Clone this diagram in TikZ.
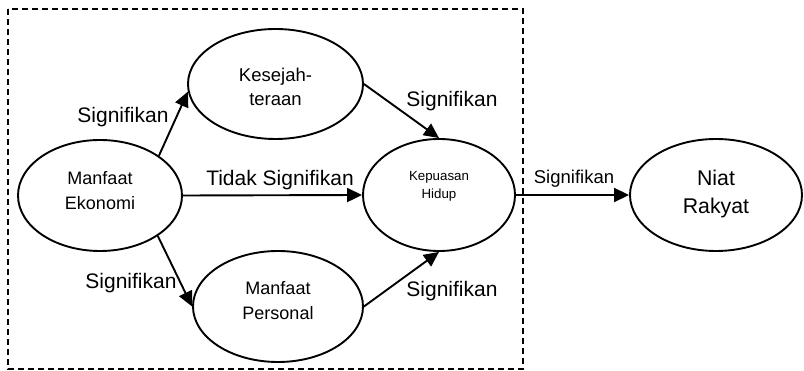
\documentclass[tikz,border=0pt]{standalone}
\usepackage{fontspec}
\setmainfont{Liberation Sans}
\usetikzlibrary{shapes.geometric,arrows.meta}
\tikzset{
  x=1pt, y=-1pt,
  construct/.style={draw, ellipse, line width=1.9pt, inner sep=0pt},
  link/.style={line width=1.9pt, -{Triangle[length=15pt,width=14pt]}},
  tag/.style={font=\fontsize{21}{24}\selectfont, inner sep=0pt},
  boundary/.style={dashed, dash pattern=on 6pt off 4pt, line width=1.6pt},
}
\begin{document}
\begin{tikzpicture}
  \useasboundingbox (0,0) rectangle (804,371);

  % group boundary
  \draw[boundary] (8,9) rectangle (523,369);

  % constructs
  \node[construct, minimum width=164pt, minimum height=111pt,
        label={[yshift=5pt, align=center, font=\fontsize{18}{25}\selectfont]center:Manfaat\\Ekonomi}]
        (ek) at (100,195.5) {};
  \node[construct, minimum width=175pt, minimum height=110pt,
        label={[yshift=-3pt, align=center, font=\fontsize{18.5}{24}\selectfont]center:Kesejah-\\teraan}]
        (ks) at (275.5,84) {};
  \node[construct, minimum width=170pt, minimum height=111pt,
        label={[yshift=6pt, align=center, font=\fontsize{18}{25}\selectfont]center:Manfaat\\Personal}]
        (ps) at (278,306.5) {};
  \node[construct, minimum width=152pt, minimum height=112pt,
        label={[yshift=9pt, align=center, font=\fontsize{13.3}{18}\selectfont]center:Kepuasan\\Hidup}]
        (kp) at (439,195) {};
  \node[construct, minimum width=172pt, minimum height=112pt,
        label={[yshift=1pt, align=center, font=\fontsize{21.3}{28}\selectfont]center:Niat\\Rakyat}]
        (nr) at (716,195) {};

  % paths
  \draw[link] (ek.34) -- (ks.185);
  \draw[link] (ek.-35) -- (ps.west);
  \draw[link] (ek.east) -- (kp.west);
  \draw[link] (ks.east) -- (kp.north);
  \draw[link] (ps.east) -- (kp.south);
  \draw[link] (kp.east) -- (nr.west);

  % path labels
  \node[tag] (l1) at (123,117) {Signifikan};
  \node[tag] (l2) at (280,180) {Tidak Signifikan};
  \node[tag] (l3) at (131,283) {Signifikan};
  \node[tag] (l4) at (452,101) {Signifikan};
  \node[tag] (l5) at (452,291) {Signifikan};
  \node[tag, font=\fontsize{18.5}{22}\selectfont] (l6) at (574,179) {Signifikan};
\end{tikzpicture}
\end{document}
